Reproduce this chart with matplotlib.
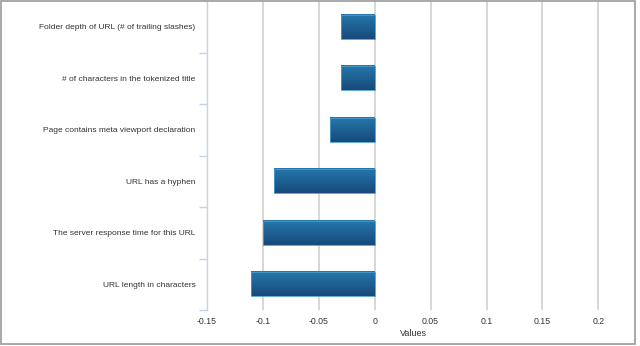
import matplotlib

matplotlib.use("Agg")
import matplotlib.pyplot as plt
import numpy as np
from matplotlib.patches import Rectangle

features = [
    "Folder depth of URL (# of trailing slashes)",
    "# of characters in the tokenized title",
    "Page contains meta viewport declaration",
    "URL has a hyphen",
    "The server response time for this URL",
    "URL length in characters",
]
values = [-0.03, -0.03, -0.04, -0.09, -0.10, -0.11]
x_ticks = [-0.15, -0.1, -0.05, 0, 0.05, 0.1, 0.15, 0.2]
x_tick_labels = ["-0.15", "-0.1", "-0.05", "0", "0.05", "0.1", "0.15", "0.2"]

plt.rcParams["font.family"] = ["Liberation Sans", "DejaVu Sans"]

fig = plt.figure(figsize=(6.4, 3.46), dpi=100)
ax = fig.add_axes([0.323, 0.104, 0.647, 0.893])

pos = np.arange(len(features))
bars = ax.barh(pos, values, height=0.47, color="none", edgecolor="#4a9ccf", linewidth=0.6, zorder=3)

# vertical gradient fill for each bar
grad = np.linspace(0, 1, 64).reshape(-1, 1)
cmap = matplotlib.colors.LinearSegmentedColormap.from_list("bar", ["#2678ad", "#174a7a"])
for b in bars:
    x0, y0 = b.get_x(), b.get_y()
    w, h = b.get_width(), b.get_height()
    ax.imshow(grad, extent=(x0, x0 + w, y0 + h, y0), aspect="auto", cmap=cmap,
              origin="upper", zorder=2)

ax.set_xlim(-0.15, 0.22)
ax.set_ylim(len(features) - 0.5, -0.5)

ax.set_xticks(x_ticks)
ax.set_xticklabels(x_tick_labels, fontsize=6.3, color="#333333")
ax.set_yticks(pos)
ax.set_yticklabels(features, fontsize=6.0, color="#333333")
ax.set_yticks(np.arange(len(features)) + 0.5, minor=True)
ax.tick_params(axis="y", which="major", length=0, pad=8)
ax.tick_params(axis="y", which="minor", length=6, color="#c5d3e3", width=1)
ax.tick_params(axis="x", length=0, pad=5)
ax.set_xlabel("Values", fontsize=6.5, color="#333333", labelpad=2)

for t in x_ticks[1:]:
    ax.axvline(t, color="#d4d4d4", linewidth=1.3, zorder=1)

for s in ["top", "right", "bottom"]:
    ax.spines[s].set_visible(False)
ax.spines["left"].set_color("#c5d3e3")
ax.spines["left"].set_linewidth(1)

fig.patches.append(Rectangle((0.002, 0.006), 0.99, 0.99, transform=fig.transFigure,
                             fill=False, edgecolor="#9a9a9a", linewidth=1.2))

fig.savefig("out.png", dpi=100)
